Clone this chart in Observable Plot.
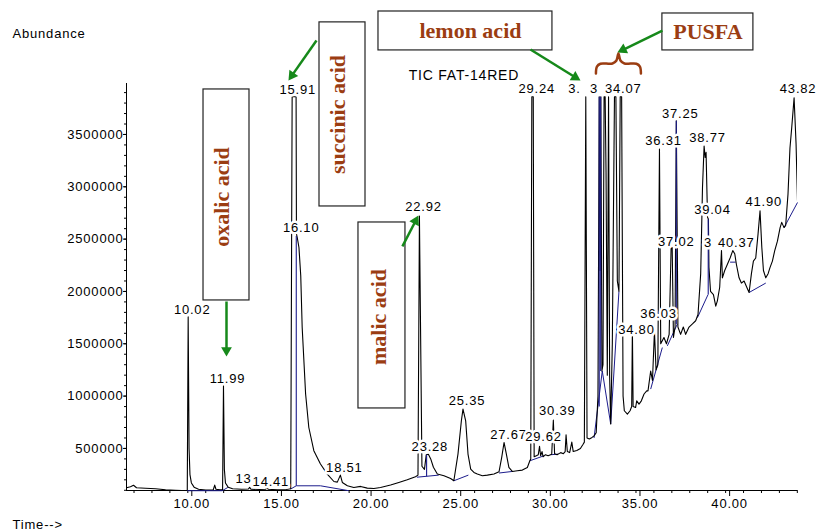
<!DOCTYPE html>
<html>
<head>
<meta charset="utf-8">
<script src="https://cdn.jsdelivr.net/npm/d3@7"></script>
<script src="https://cdn.jsdelivr.net/npm/@observablehq/plot@0.6"></script>
<style>
  html, body { margin: 0; padding: 0; background: white; }
  #chart svg { display: block; letter-spacing: 0.8px; }
  #chart svg g[font-weight="bold"] { letter-spacing: 0; }
</style>
</head>
<body>
<div id="chart"></div>
<script>
// ---------- data ----------
// chromatogram trace: [time (min), abundance]
const trace = [
  [6.58,124000],[6.80,134000],[6.97,148000],[7.14,124000],[7.64,119000],[8.20,115000],[8.76,105000],[9.31,100000],[9.90,96000],
  [9.97,98000],[10.02,1757000],[10.07,500000],[10.12,250000],[10.20,170000],[10.35,130000],[10.60,110000],[11.00,102000],
  [11.42,105000],[11.50,150000],[11.57,110000],[11.80,104000],[11.94,105000],[11.99,1100000],[12.04,300000],[12.10,170000],
  [12.25,130000],[12.50,115000],[13.00,110000],[13.38,112000],[13.45,128000],[13.52,110000],[14.00,108000],[14.35,110000],
  [14.41,132000],[14.48,110000],[15.00,105000],[15.50,108000],[15.74,115000],
  [15.82,3860000],[16.04,3860000],[16.06,2550000],[16.10,2520000],[16.20,2420000],[16.30,2150000],[16.38,1655000],
  [16.57,1022000],[16.75,700000],[17.03,478000],[17.40,351000],[17.78,255000],[18.15,184000],[18.34,178000],[18.51,245000],
  [18.62,175000],[18.90,143000],[19.26,127000],[19.64,137000],[20.01,121000],[20.38,117000],
  [20.75,127000],[21.31,150000],[21.77,175000],[22.24,201000],[22.70,229000],[22.84,245000],[22.92,2720000],[23.06,330000],
  [23.20,300000],[23.30,440000],[23.42,445000],[23.55,400000],[23.70,320000],[23.92,255000],[24.29,239000],[24.66,213000],
  [24.84,191000],[25.07,446000],[25.26,764000],[25.35,876000],[25.50,764000],[25.63,446000],[25.78,303000],[25.96,270000],
  [26.15,255000],[26.43,239000],[26.71,245000],[27.08,255000],[27.36,277000],[27.51,414000],[27.64,557000],[27.77,446000],
  [27.91,318000],[28.10,280000],[28.38,287000],[28.66,293000],[28.94,318000],[29.08,382000],[29.13,400000],[29.19,3860000],
  [29.27,3860000],[29.32,420000],[29.44,430000],[29.55,440000],[29.62,520000],[29.68,430000],[29.76,470000],[29.82,420000],
  [29.95,440000],[30.10,430000],[30.30,445000],[30.39,770000],[30.46,450000],[30.60,440000],[30.80,460000],[30.95,450000],
  [31.05,470000],[31.10,630000],[31.17,470000],[31.30,460000],[31.42,560000],[31.50,470000],[31.70,480000],[31.90,500000],
  [32.05,540000],[32.12,560000],[32.20,3860000],[32.27,600000],[32.40,590000],[32.55,605000],[32.66,620000],[32.78,650000],
  [32.88,1000000],[32.95,3860000],[33.00,2200000],[33.04,3860000],[33.10,1240000],[33.16,1300000],[33.22,3860000],
  [33.28,3860000],[33.33,3140000],[33.40,1200000],[33.47,3860000],[33.53,1200000],[33.59,733000],[33.68,1500000],
  [33.80,3860000],[33.88,3860000],[33.96,2100000],[34.05,2000000],[34.12,3860000],[34.20,3860000],[34.28,1000000],
  [34.35,860000],[34.52,828000],[34.67,860000],[34.76,900000],[34.80,1640000],[34.84,900000],[34.98,891000],[35.04,955000],
  [35.17,923000],[35.30,955000],[35.45,1020000],[35.60,1050000],[35.67,1050000],[35.82,1240000],[35.92,1150000],
  [36.03,1620000],[36.12,1250000],[36.22,1300000],[36.31,3360000],[36.38,1500000],[36.56,1560000],[36.70,1500000],
  [36.85,1590000],[36.96,2420000],[37.02,2420000],[37.09,1560000],[37.18,1660000],[37.25,3630000],[37.34,1660000],
  [37.49,1590000],[37.64,1660000],[37.77,1590000],[37.96,1660000],[38.15,1690000],[38.33,1720000],[38.46,1780000],
  [38.61,2170000],[38.71,2990000],[38.80,3390000],[38.86,3280000],[38.91,3330000],[38.99,2710000],[39.04,2690000],
  [39.07,2230000],[39.16,2000000],[39.32,1970000],[39.45,1860000],[39.54,1910000],[39.67,2040000],[39.77,2390000],
  [39.82,2130000],[39.95,2200000],[40.10,2260000],[40.25,2320000],[40.40,2390000],[40.51,2360000],[40.60,2260000],
  [40.75,2130000],[40.88,2080000],[41.03,2100000],[41.18,2040000],[41.31,1990000],[41.44,2170000],[41.55,2290000],
  [41.68,2320000],[41.81,2550000],[41.92,2770000],[42.02,2420000],[42.11,2200000],[42.24,2130000],[42.37,2170000],
  [42.48,2230000],[42.61,2290000],[42.74,2390000],[42.89,2480000],[43.04,2610000],[43.13,2660000],[43.26,2610000],
  [43.35,2630000],[43.48,2930000],[43.59,3370000],[43.69,3570000],[43.82,3850000],[43.93,3410000],[44.01,2870000]
];

// integration baselines: [t1, a1, t2, a2]
const baselineSegs = [
  [9.97,96000,11.92,96000],[11.92,96000,12.23,127000],[15.74,112000,16.05,143000],[16.05,143000,17.40,143000],
  [17.40,143000,18.98,96000],[22.78,225000,24.00,245000],[24.84,191000,25.65,245000],[27.36,265000,28.10,280000],
  [29.08,382000,29.87,430000],[30.25,440000,30.65,445000],[32.66,600000,33.12,1240000],[33.12,1240000,33.59,733000],
  [33.59,733000,34.05,2000000],[35.82,1067000,36.47,1464000],[36.75,1480000,37.31,1690000],[38.43,1750000,39.02,1970000],
  [40.25,2280000,40.56,2280000],[41.31,1990000,42.24,2080000],[43.26,2610000,44.01,2850000]
];

// integration drop lines: [t, a1, a2]
const dropLines = [
  [16.05,143000,2530000],[23.32,235000,440000],[32.95,900000,3860000],[33.03,1240000,3860000],
  [37.25,1690000,3630000],[39.03,1970000,2690000]
];

// peak labels (label position time, label height, text)
const peakLabelTimes   = [10.02, 11.99, 12.88, 14.41, 15.91, 16.10, 18.51, 22.92, 23.28, 25.35, 27.67, 29.24, 29.62, 30.39,
                          31.34, 32.43, 34.07, 34.80, 36.03, 36.31, 37.02, 37.25, 38.77, 39.04, 38.79, 40.37, 41.90, 43.82];
const peakLabelHeights = [1822000,1166000,214000,185000,3926000,2608000,316000,2805000,513000,952000,631000,3936000,609000,857000,
                          3936000,3936000,3936000,1630000,1790000,3442000,2471000,3697000,3468000,2780000,2468000,2468000,2853000,3939000];
const peakLabelTexts   = ["10.02","11.99","13","14.41","15.91","16.10","18.51","22.92","23.28","25.35","27.67","29.24","29.62","30.39",
                          "3.","3","34.07","34.80","36.03","36.31","37.02","37.25","38.77","39.04","3","40.37","41.90","43.82"];

// axis ticks
const xMajorTicks = [10, 15, 20, 25, 30, 35, 40];
const xMinorTicks = d3.range(7, 45);
const yMajorTicks = [500000, 1000000, 1500000, 2000000, 2500000, 3000000, 3500000];
const yMinorTicks = d3.range(100000, 4000000, 100000);

// annotations
const boxLabels = ["oxalic acid", "succinic acid", "malic acid", "lemon acid", "PUSFA"];
const boxX1 = [10.876, 17.346, 19.520, 20.636, 36.474];
const boxX2 = [13.441, 19.912, 22.141, 30.340, 41.550];
const boxY1 = [3930000, 4571000, 2659000, 4675000, 4656000];
const boxY2 = [1914000, 2812000, 882000, 4303000, 4303000];
const boxTextX = [11.907, 18.349, 20.636, 25.767, 39.013];
const boxTextY = [2902000, 3691000, 1756000, 4493000, 4484000];
const boxRotate = [-90, -90, -90, 0, 0];

const arrows = [ // [t1, a1, t2, a2]
  [12.158, 1904000, 12.158, 1379000],
  [17.178, 4398000, 15.616, 4016000],
  [21.971, 2430000, 22.863, 2726000],
  [29.114, 4312000, 31.903, 4016000],
  [36.474, 4493000, 33.964, 4283000]
];
const brace = [
  [32.766,4082000],[32.822,4149000],[33.017,4176000],[33.687,4178000],[33.910,4207000],[34.021,4274000],
  [34.133,4207000],[34.356,4178000],[35.025,4176000],[35.220,4149000],[35.276,4082000]
];
const titleText = "TIC FAT-14RED";
const titlePos = [25.40, 4064000];
const yAxisTitle = "Abundance";
const yAxisTitlePos = [0.223, 4465000];
const xAxisTitle = "Time-->";
const xAxisTitlePos = [0.223, -226000];

// ---------- layout ----------
const W = 816, H = 531, ML = 126, MR = 19, MT = 83, MB = 41;
const xDomain = [6.58, 44.01], yDomain = [98000, 3987000];
const sx = Plot.scale({x: {domain: xDomain, range: [ML, W - MR]}});
const sy = Plot.scale({y: {domain: yDomain, range: [H - MB, MT]}});

const peakLabels = peakLabelTimes.map((t, i) => ({t, y: peakLabelHeights[i], text: peakLabelTexts[i]}));
const boxes = boxLabels.map((label, i) => ({label, x1: boxX1[i], x2: boxX2[i], y1: boxY1[i], y2: boxY2[i],
  tx: boxTextX[i], ty: boxTextY[i], rot: boxRotate[i]}));

// arrow shafts + triangular heads
const HEAD = 6.2;
const arrowParts = arrows.map(([t1, a1, t2, a2]) => {
  const p1 = [sx.apply(t1), sy.apply(a1)], p2 = [sx.apply(t2), sy.apply(a2)];
  const dx = p2[0] - p1[0], dy = p2[1] - p1[1], len = Math.hypot(dx, dy);
  const ux = dx / len, uy = dy / len;
  const c = [p2[0] - ux * HEAD, p2[1] - uy * HEAD];
  return {t1, a1, tc: sx.invert(c[0]), ac: sy.invert(c[1]), rot: Math.atan2(ux, -uy) * 180 / Math.PI};
});

const GREEN = "#16891a", BROWN = "#9b3d12", BLUE = "#1c1c8c";

const chart = Plot.plot({
  width: W, height: H,
  marginLeft: ML, marginRight: MR, marginTop: MT, marginBottom: MB,
  style: {fontFamily: "'Liberation Sans', Arial, sans-serif", fontSize: "13px", background: "white", color: "black"},
  x: {domain: xDomain, axis: null},
  y: {domain: yDomain, axis: null},
  marks: [
    // axes
    Plot.axisY(yMinorTicks, {anchor: "left", tickSize: 2, tickFormat: () => "", label: null}),
    Plot.axisY(yMajorTicks, {anchor: "left", tickSize: 3, tickPadding: 0, tickFormat: d => String(d), label: null, fontSize: 13}),
    Plot.axisX(xMinorTicks, {anchor: "bottom", tickSize: 3, tickFormat: () => "", label: null}),
    Plot.axisX(xMajorTicks, {anchor: "bottom", tickSize: 6, tickPadding: 2, tickFormat: d => d.toFixed(2), label: null, dx: 4, fontSize: 13}),
    Plot.ruleX([xDomain[0]], {stroke: "black", strokeWidth: 1}),
    Plot.ruleY([yDomain[0]], {stroke: "black", strokeWidth: 1}),
    // chromatogram
    Plot.link(baselineSegs, {x1: d => d[0], y1: d => d[1], x2: d => d[2], y2: d => d[3], stroke: BLUE, strokeWidth: 1}),
    Plot.line(trace, {x: d => d[0], y: d => d[1], stroke: "black", strokeWidth: 1.1, clip: true}),
    Plot.link(dropLines, {x1: d => d[0], x2: d => d[0], y1: d => d[1], y2: d => d[2], stroke: BLUE, strokeWidth: 1.1}),
    // peak labels
    Plot.text(peakLabels, {x: "t", y: "y", text: "text", dx: 4, fill: "black", stroke: "white", strokeWidth: 5, fontSize: 13}),
    // titles
    Plot.text([titleText], {x: () => titlePos[0], y: () => titlePos[1], text: d => d, fontSize: 14, fill: "black"}),
    Plot.text([yAxisTitle], {x: () => yAxisTitlePos[0], y: () => yAxisTitlePos[1], text: d => d, textAnchor: "start", fontSize: 13, fill: "black"}),
    Plot.text([xAxisTitle], {x: () => xAxisTitlePos[0], y: () => xAxisTitlePos[1], text: d => d, textAnchor: "start", fontSize: 13, fill: "black"}),
    // annotations
    Plot.rect(boxes, {x1: "x1", x2: "x2", y1: "y1", y2: "y2", fill: "white", stroke: "#222", strokeWidth: 1.2}),
    Plot.text(boxes, {x: "tx", y: "ty", text: "label", rotate: "rot", fill: BROWN,
      fontFamily: "'Liberation Serif', 'Times New Roman', serif", fontWeight: "bold", fontSize: 22}),
    Plot.link(arrowParts, {x1: "t1", y1: "a1", x2: "tc", y2: "ac", stroke: GREEN, strokeWidth: 2.5}),
    Plot.dot(arrowParts, {x: "tc", y: "ac", symbol: "triangle", r: 4, rotate: "rot", fill: GREEN, stroke: "none"}),
    Plot.line(brace, {x: d => d[0], y: d => d[1], stroke: BROWN, strokeWidth: 2.5, curve: "catmull-rom"})
  ]
});
document.getElementById("chart").appendChild(chart);
</script>
</body>
</html>
